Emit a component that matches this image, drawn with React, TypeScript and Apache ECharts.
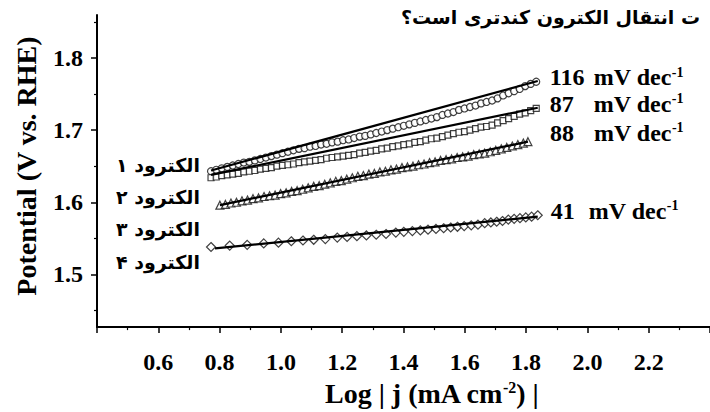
import React, { useEffect, useRef } from "react";
import * as echarts from "echarts";

// ---------- data ----------
const circleX = [0.772, 0.789, 0.807, 0.825, 0.843, 0.861, 0.879, 0.897, 0.915, 0.933, 0.951, 0.969, 0.987, 1.005, 1.023, 1.041, 1.059, 1.077, 1.095, 1.113, 1.131, 1.149, 1.167, 1.185, 1.203, 1.221, 1.239, 1.257, 1.275, 1.293, 1.311, 1.329, 1.347, 1.365, 1.383, 1.401, 1.419, 1.437, 1.455, 1.473, 1.491, 1.509, 1.527, 1.545, 1.563, 1.581, 1.599, 1.617, 1.635, 1.653, 1.671, 1.689, 1.707, 1.725, 1.743, 1.761, 1.779, 1.797, 1.815, 1.833];
const circleY = [1.643, 1.645, 1.647, 1.649, 1.651, 1.653, 1.655, 1.656, 1.658, 1.660, 1.662, 1.664, 1.666, 1.668, 1.670, 1.672, 1.674, 1.675, 1.677, 1.678, 1.680, 1.681, 1.683, 1.684, 1.686, 1.687, 1.689, 1.691, 1.692, 1.694, 1.696, 1.698, 1.700, 1.702, 1.704, 1.706, 1.708, 1.710, 1.712, 1.714, 1.716, 1.718, 1.721, 1.723, 1.725, 1.728, 1.730, 1.732, 1.734, 1.737, 1.739, 1.741, 1.744, 1.748, 1.751, 1.754, 1.757, 1.761, 1.764, 1.767];

const squareX = circleX;
const squareY = [1.634, 1.635, 1.637, 1.638, 1.639, 1.640, 1.642, 1.643, 1.644, 1.646, 1.647, 1.648, 1.650, 1.651, 1.652, 1.653, 1.655, 1.656, 1.657, 1.658, 1.659, 1.661, 1.662, 1.663, 1.664, 1.665, 1.666, 1.668, 1.669, 1.671, 1.672, 1.674, 1.675, 1.677, 1.678, 1.680, 1.681, 1.683, 1.684, 1.686, 1.688, 1.689, 1.691, 1.693, 1.695, 1.697, 1.698, 1.700, 1.702, 1.704, 1.705, 1.707, 1.710, 1.713, 1.716, 1.719, 1.722, 1.724, 1.727, 1.730];

const triangleX = [0.801, 0.819, 0.837, 0.855, 0.873, 0.891, 0.909, 0.927, 0.945, 0.963, 0.981, 0.999, 1.017, 1.035, 1.053, 1.071, 1.089, 1.107, 1.125, 1.143, 1.161, 1.179, 1.197, 1.215, 1.233, 1.251, 1.269, 1.287, 1.305, 1.323, 1.341, 1.359, 1.377, 1.395, 1.413, 1.431, 1.449, 1.467, 1.485, 1.503, 1.521, 1.539, 1.557, 1.575, 1.593, 1.611, 1.629, 1.647, 1.665, 1.683, 1.701, 1.719, 1.737, 1.755, 1.773, 1.791, 1.806];
const triangleY = [1.596, 1.597, 1.599, 1.600, 1.602, 1.603, 1.605, 1.606, 1.608, 1.609, 1.610, 1.612, 1.613, 1.615, 1.616, 1.618, 1.620, 1.622, 1.623, 1.625, 1.627, 1.629, 1.630, 1.632, 1.634, 1.636, 1.637, 1.639, 1.640, 1.642, 1.643, 1.645, 1.646, 1.648, 1.649, 1.650, 1.652, 1.653, 1.655, 1.656, 1.658, 1.659, 1.660, 1.662, 1.663, 1.664, 1.666, 1.667, 1.668, 1.670, 1.672, 1.674, 1.676, 1.678, 1.680, 1.682, 1.684];

const diamondX = [0.772, 0.833, 0.890, 0.944, 0.992, 1.034, 1.072, 1.107, 1.145, 1.184, 1.216, 1.248, 1.279, 1.311, 1.343, 1.375, 1.401, 1.429, 1.455, 1.480, 1.506, 1.531, 1.554, 1.576, 1.598, 1.621, 1.643, 1.665, 1.685, 1.704, 1.723, 1.742, 1.761, 1.780, 1.799, 1.818, 1.838];
const diamondY = [1.538, 1.540, 1.541, 1.543, 1.544, 1.546, 1.547, 1.548, 1.549, 1.551, 1.552, 1.553, 1.554, 1.555, 1.556, 1.558, 1.559, 1.560, 1.561, 1.562, 1.563, 1.564, 1.565, 1.566, 1.567, 1.568, 1.569, 1.571, 1.572, 1.573, 1.574, 1.576, 1.577, 1.578, 1.579, 1.580, 1.582];

// fitted Tafel lines: [start x, end x], [start y, end y]
const fitX1 = [0.772, 1.838];
const fitY1 = [1.644, 1.768];
const fitX2 = [0.772, 1.838];
const fitY2 = [1.638, 1.731];
const fitX3 = [0.801, 1.806];
const fitY3 = [1.596, 1.684];
const fitX4 = [0.785, 1.838];
const fitY4 = [1.536, 1.580];

const slopeValues = ["116", "87", "88", "41"];
const electrodeLabels = ["الکترود ۱", "الکترود ۲", "الکترود ۳", "الکترود ۴"];
const questionText = "ت انتقال الکترون کندتری است؟";
const yMajorTicks = [1.5, 1.6, 1.7, 1.8];
const yMinorTicks = [1.45, 1.55, 1.65, 1.75, 1.85];
const yTitle = "Potential (V vs. RHE)";

// ---------- styling ----------
const SERIF = '"Liberation Serif", "Times New Roman", serif';
const ARABIC = '"DejaVu Sans", sans-serif';
const Y_MIN = 1.427;
const Y_MAX = 1.8595;

const zip = (xs: number[], ys: number[]) => xs.map((x, i) => [x, ys[i]]);

const richSlope = (numWidth: number) => ({
  n: { fontSize: 24, fontWeight: "bold", fontFamily: SERIF, color: "#000", width: numWidth },
  u: { fontSize: 24, fontWeight: "bold", fontFamily: SERIF, color: "#000" },
  s: { fontSize: 14, fontWeight: "bold", fontFamily: SERIF, color: "#000", verticalAlign: "top" },
});

const fitSeries = (xs: number[], ys: number[], idx: number, numWidth: number, offset: number[]) => ({
  type: "line",
  data: zip(xs, ys),
  symbol: "none",
  lineStyle: { color: "#000", width: 2.2 },
  z: 4,
  silent: true,
  endLabel: {
    show: true,
    distance: 5,
    offset,
    formatter: () => `{n|${slopeValues[idx]}}{u|mV dec}{s|-1}`,
    rich: richSlope(numWidth),
  },
});

const markerSeries = (xs: number[], ys: number[], symbol: string, size: number) => ({
  type: "scatter",
  data: zip(xs, ys),
  symbol,
  symbolSize: size,
  itemStyle: { color: "#fff", borderColor: "#111", borderWidth: 1.2 },
  z: 3,
  silent: true,
});

export default function App() {
  const ref = useRef<HTMLDivElement>(null);

  useEffect(() => {
    if (!ref.current) return;
    const chart = echarts.init(ref.current, null, { renderer: "svg" });

    const labelYs = [165, 197, 229, 262];

    chart.setOption({
      animation: false,
      backgroundColor: "#fff",
      textStyle: { fontFamily: SERIF },
      grid: { left: 97, right: -14, top: 15, bottom: 77, containLabel: false },
      xAxis: {
        type: "value",
        min: 0.4,
        max: 2.4,
        interval: 0.2,
        axisLine: { lineStyle: { color: "#000", width: 2 } },
        axisTick: { length: 6, lineStyle: { color: "#000", width: 1.5 } },
        minorTick: { show: true, splitNumber: 2, length: 3, lineStyle: { color: "#000", width: 1.2 } },
        splitLine: { show: false },
        axisLabel: {
          showMinLabel: false,
          showMaxLabel: false,
          color: "#000",
          fontSize: 24,
          fontWeight: "bold",
          fontFamily: SERIF,
          margin: 23,
          formatter: (v: number) => v.toFixed(1),
        },
        name: "{a|Log | j (mA cm}{s|-2}{a|) |}",
        nameLocation: "middle",
        nameGap: 38,
        nameTextStyle: {
          padding: [0, 0, 0, 56],
          rich: {
            a: { fontSize: 28, fontWeight: "bold", fontFamily: SERIF, color: "#000" },
            s: { fontSize: 16, fontWeight: "bold", fontFamily: SERIF, color: "#000", verticalAlign: "top" },
          },
        },
      },
      yAxis: [
        {
          type: "value",
          min: Y_MIN,
          max: Y_MAX,
          axisLine: { lineStyle: { color: "#000", width: 2 } },
          axisTick: { customValues: yMajorTicks, length: 6, lineStyle: { color: "#000", width: 1.5 } },
          splitLine: { show: false },
          axisLabel: {
            customValues: yMajorTicks,
            color: "#000",
            fontSize: 24,
            fontWeight: "bold",
            fontFamily: SERIF,
            margin: 14,
            formatter: (v: number) => v.toFixed(1),
          },
          name: yTitle,
          nameLocation: "middle",
          nameGap: 57,
          nameTextStyle: { fontSize: 28, fontWeight: "bold", fontFamily: SERIF, color: "#000", padding: [0, 0, 0, 10] },
        },
        {
          type: "value",
          min: Y_MIN,
          max: Y_MAX,
          position: "left",
          axisLine: { show: false },
          axisTick: { customValues: yMinorTicks, length: 3, lineStyle: { color: "#000", width: 1.2 } },
          axisLabel: { show: false },
          splitLine: { show: false },
        },
      ],
      graphic: [
        ...electrodeLabels.map((t, i) => ({
          type: "text",
          x: 200,
          y: labelYs[i],
          silent: true,
          style: {
            text: t,
            align: "right",
            verticalAlign: "middle",
            font: `bold 19px ${ARABIC}`,
            fill: "#000",
          },
        })),
        {
          type: "text",
          x: 700,
          y: 17,
          silent: true,
          style: {
            text: questionText,
            align: "right",
            verticalAlign: "middle",
            font: `bold 19px ${ARABIC}`,
            fill: "#000",
          },
        },
      ],
      series: [
        markerSeries(circleX, circleY, "circle", 7),
        markerSeries(squareX, squareY, "rect", 6),
        markerSeries(triangleX, triangleY, "triangle", 8),
        markerSeries(diamondX, diamondY, "diamond", 9),
        fitSeries(fitX1, fitY1, 0, 44, [7, -4]),
        fitSeries(fitX2, fitY2, 1, 44, [7, -4]),
        fitSeries(fitX3, fitY3, 2, 44, [17, -9]),
        fitSeries(fitX4, fitY4, 3, 38, [8, -6]),
      ],
    });

    return () => chart.dispose();
  }, []);

  return (
    <div
      ref={ref}
      style={{ position: "absolute", left: 0, top: 0, width: 710, height: 412, background: "#fff" }}
    />
  );
}
